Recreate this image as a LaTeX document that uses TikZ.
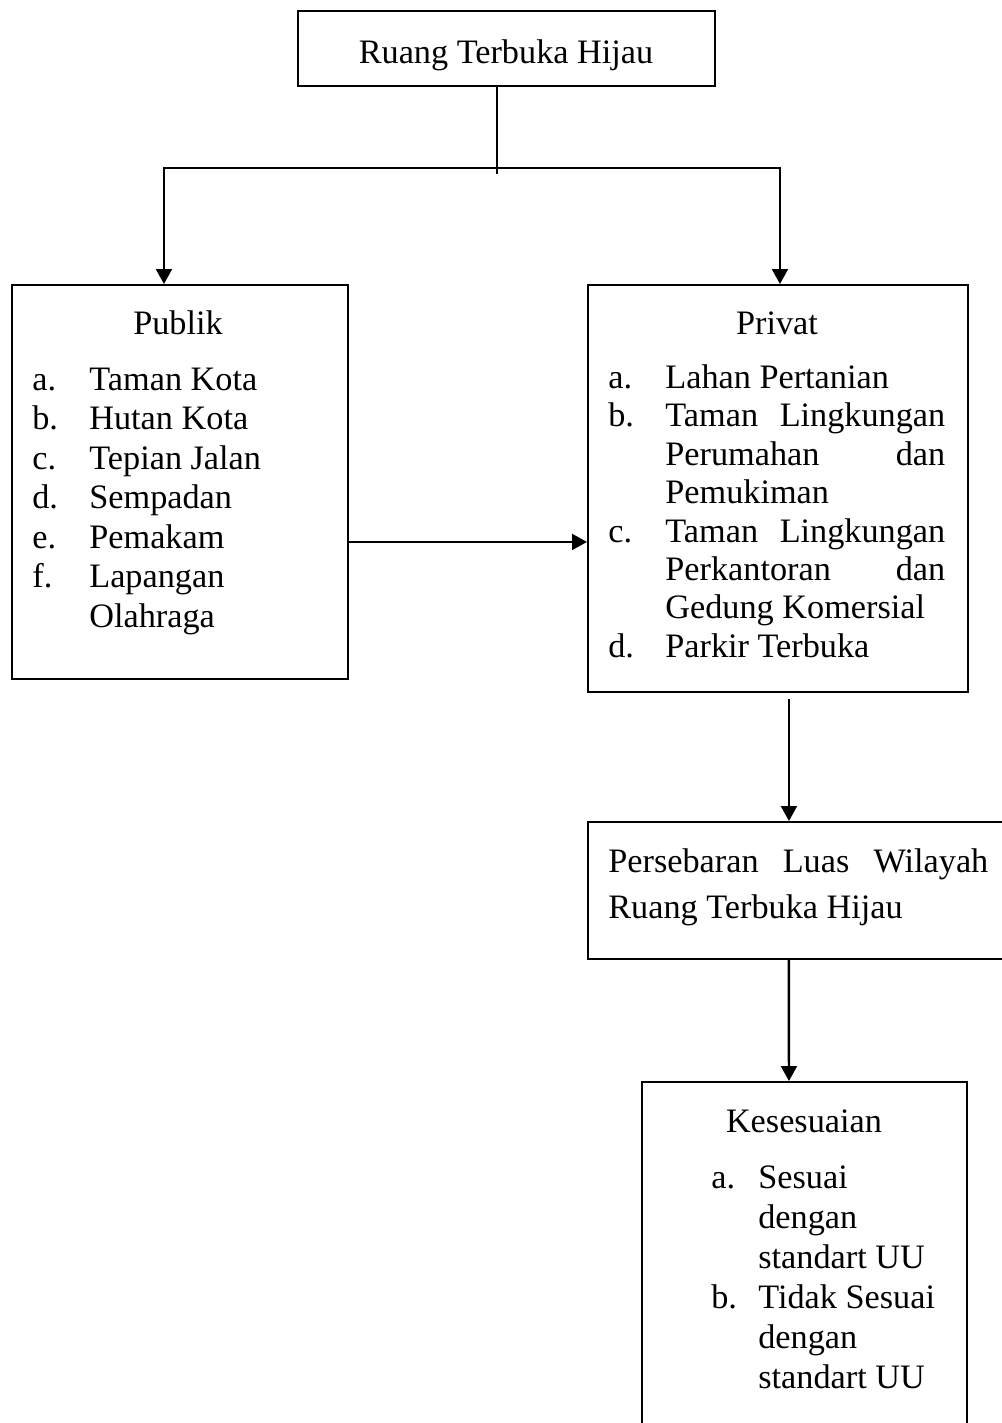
\documentclass[tikz,border=0pt]{standalone}
\usepackage{fontspec}
\setmainfont{Liberation Serif}
\usetikzlibrary{arrows.meta}
\begin{document}
\begin{tikzpicture}[x=0.02cm,y=-0.02cm,
  box/.style={draw,line width=1.2pt,rectangle,inner sep=0pt,anchor=north west},
  txt/.style={inner sep=0pt,anchor=base west,font=\fontsize{19.5}{23}\selectfont},
  ctxt/.style={inner sep=0pt,anchor=base,font=\fontsize{19.5}{23}\selectfont},
  conn/.style={line width=1.4pt},
  arr/.style={conn,-{Triangle[width=9pt,length=8.5pt]}}]
\useasboundingbox (0,0) rectangle (1001,1423);

% boxes
\node[box,minimum width=8.34cm,minimum height=1.5cm] (rth) at (297,10) {};
\node[box,minimum width=6.72cm,minimum height=7.88cm] (pub) at (11,284) {};
\node[box,minimum width=7.6cm,minimum height=8.14cm] (pri) at (587,284) {};
\node[box,minimum width=8.8cm,minimum height=2.74cm] (per) at (587,821) {};
\node[box,minimum width=6.5cm,minimum height=8.4cm] (kes) at (641,1081) {};

% top text
\node[ctxt] (rtht) at (506,63) {Ruang Terbuka Hijau};

% Publik
\node[ctxt] (pubt) at (178,334) {Publik};
\node[txt] (pa) at (32,390) {a.};  \node[txt] (pat) at (89,390) {Taman Kota};
\node[txt] (pb) at (32,429.5) {b.}; \node[txt] (pbt) at (89,429.5) {Hutan Kota};
\node[txt] (pc) at (32,469) {c.};  \node[txt] (pct) at (89,469) {Tepian Jalan};
\node[txt] (pd) at (32,508.5) {d.}; \node[txt] (pdt) at (89,508.5) {Sempadan};
\node[txt] (pe) at (32,548) {e.};  \node[txt] (pet) at (89,548) {Pemakam};
\node[txt] (pf) at (32,587.5) {f.}; \node[txt] (pft) at (89,587.5) {Lapangan};
\node[txt] (pft2) at (89,627) {Olahraga};

% Privat
\node[ctxt] (prit) at (777,334) {Privat};
\node[txt] (ra) at (608,388) {a.};   \node[txt] (rat) at (665,388) {Lahan Pertanian};
\node[txt] (rb) at (608,426.5) {b.}; \node[txt] (rbt) at (665,426.5) {\makebox[5.6cm][s]{Taman Lingkungan}};
\node[txt] (rbt2) at (665,465) {\makebox[5.6cm][s]{Perumahan dan}};
\node[txt] (rbt3) at (665,503.5) {Pemukiman};
\node[txt] (rc) at (608,542) {c.};   \node[txt] (rct) at (665,542) {\makebox[5.6cm][s]{Taman Lingkungan}};
\node[txt] (rct2) at (665,580) {\makebox[5.6cm][s]{Perkantoran dan}};
\node[txt] (rct3) at (665,618.5) {Gedung Komersial};
\node[txt] (rd) at (608,657) {d.};   \node[txt] (rdt) at (665,657) {Parkir Terbuka};

% Persebaran
\node[txt] (pert) at (608,872) {\makebox[7.6cm][s]{Persebaran Luas Wilayah}};
\node[txt] (pert2) at (608,918) {Ruang Terbuka Hijau};

% Kesesuaian
\node[ctxt] (kest) at (804,1132) {Kesesuaian};
\node[txt] (ka) at (711,1188) {a.}; \node[txt] (kat) at (758,1188) {Sesuai};
\node[txt] (kat2) at (758,1228) {dengan};
\node[txt] (kat3) at (758,1268) {standart UU};
\node[txt] (kb) at (711,1308) {b.}; \node[txt] (kbt) at (758,1308) {Tidak Sesuai};
\node[txt] (kbt2) at (758,1348) {dengan};
\node[txt] (kbt3) at (758,1388) {standart UU};

% connectors
\coordinate (j) at (497,168);
\draw[conn] (j |- rth.south) -- (j) -- ++(0,6);
\draw[arr] (j) -| ([xshift=3.06cm]pub.north west);
\draw[arr] (j) -| ([xshift=3.86cm]pri.north west);
\draw[arr] ([yshift=-5.16cm]pub.north east) -- ([yshift=-5.16cm]pri.north west);
\draw[arr] ([xshift=4.04cm,yshift=-0.12cm]pri.south west) -- ([xshift=4.04cm]per.north west);
\draw[arr] ([xshift=4.04cm]per.south west) -- ([xshift=2.96cm]kes.north west);
\end{tikzpicture}
\end{document}
